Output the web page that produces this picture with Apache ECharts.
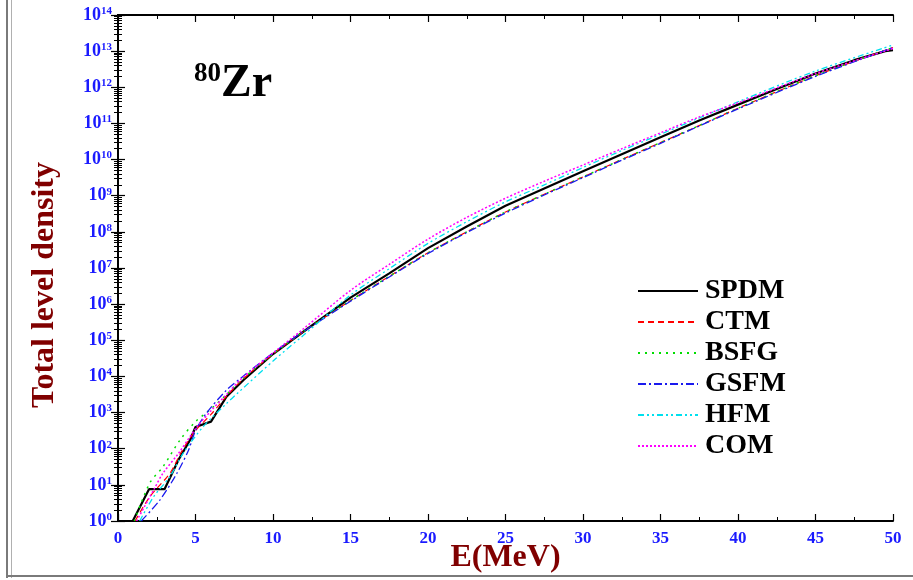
<!DOCTYPE html>
<html>
<head>
<meta charset="utf-8">
<script src="https://cdn.jsdelivr.net/npm/echarts@6/dist/echarts.min.js"></script>
<style>
  html, body { margin: 0; padding: 0; background: #fff; }
  #chart { width: 913px; height: 580px; }
  .frame-left { position: absolute; left: 6px; top: 0; width: 3px; height: 578px; border-left: 2px solid #7a7a7a; border-right: 1px solid #b0b0b0; }
  .frame-bottom { position: absolute; left: 6px; top: 575px; width: 907px; height: 0; border-top: 2px solid #7a7a7a; }
</style>
</head>
<body>
<div class="frame-left"></div>
<div class="frame-bottom"></div>
<div id="chart"></div>
<script>
// series data: excitation energy (MeV) and log10 of the total level density
var spdmE   = [0.95, 2.0, 3.0, 3.9, 4.65, 5.0, 6.0, 7.0, 8.1, 10, 12, 15, 17.5, 20, 22.5, 25, 27.5, 30, 32.5, 35, 37.5, 40, 42.5, 45, 47.5, 49.5, 50];
var spdmLog = [0, 0.88, 0.88, 1.69, 2.24, 2.6, 2.75, 3.44, 3.9, 4.62, 5.25, 6.18, 6.85, 7.55, 8.15, 8.72, 9.2, 9.68, 10.15, 10.62, 11.08, 11.52, 11.95, 12.38, 12.75, 13.0, 13.03];

var ctmE   = [1.1, 2.05, 3.35, 4.1, 5, 6, 7, 8, 10, 12, 15, 17.5, 20, 22.5, 25, 27.5, 30, 32.5, 35, 37.5, 40, 45, 50];
var ctmLog = [0, 0.67, 1.32, 1.92, 2.5, 2.95, 3.45, 3.9, 4.62, 5.25, 6.1, 6.77, 7.42, 8.0, 8.55, 9.04, 9.52, 10.0, 10.47, 10.94, 11.42, 12.32, 13.1];

var bsfgE   = [1.05, 2.05, 2.9, 4.0, 5, 6, 7, 8, 10, 12, 15, 17.5, 20, 22.5, 25, 27.5, 30, 32.5, 35, 37.5, 40, 45, 50];
var bsfgLog = [0, 1.05, 1.5, 2.24, 2.75, 3.1, 3.5, 3.92, 4.62, 5.25, 6.1, 6.77, 7.42, 8.0, 8.55, 9.04, 9.52, 10.0, 10.47, 10.94, 11.42, 12.32, 13.1];

var gsfmE   = [1.5, 2.7, 3.8, 4.55, 5.0, 5.7, 7.0, 8.0, 10, 12, 15, 17.5, 20, 22.5, 25, 27.5, 30, 32.5, 35, 37.5, 40, 45, 50];
var gsfmLog = [0, 0.58, 1.32, 1.96, 2.5, 2.98, 3.62, 3.98, 4.65, 5.25, 6.08, 6.75, 7.4, 7.98, 8.52, 9.02, 9.5, 9.98, 10.45, 10.93, 11.4, 12.3, 13.1];

var hfmE   = [1.4, 2.3, 3.35, 4.2, 5.5, 7.0, 7.7, 10.2, 12, 15, 17.5, 20, 22.5, 25, 27.5, 30, 32.5, 35, 37.5, 40, 45, 50];
var hfmLog = [0, 0.67, 1.23, 1.87, 2.61, 3.25, 3.53, 4.5, 5.15, 6.25, 6.98, 7.68, 8.28, 8.83, 9.3, 9.78, 10.25, 10.7, 11.15, 11.6, 12.45, 13.17];

var comE   = [1.2, 2.3, 2.9, 3.9, 5, 6, 7, 8, 10, 12, 15, 17.5, 20, 22.5, 25, 27.5, 30, 32.5, 35, 37.5, 40, 45, 50];
var comLog = [0, 0.86, 1.32, 1.87, 2.55, 3.05, 3.5, 3.95, 4.65, 5.33, 6.38, 7.1, 7.8, 8.4, 8.93, 9.4, 9.85, 10.3, 10.74, 11.18, 11.57, 12.38, 13.07];

var xTicks = [0, 5, 10, 15, 20, 25, 30, 35, 40, 45, 50];

var serif = '"Liberation Serif", "DejaVu Serif", serif';

function pairs(es, logs) {
    return es.map(function (e, i) { return [e, Math.pow(10, logs[i])]; });
}

function lineSeries(name, es, logs, color, width, dash, smooth) {
    return {
        name: name,
        type: 'line',
        xAxisIndex: 0,
        yAxisIndex: 0,
        symbol: 'none',
        smooth: smooth,
        clip: true,
        data: pairs(es, logs),
        lineStyle: { color: color, width: width, type: dash },
        itemStyle: { color: color }
    };
}

var myChart = echarts.init(document.getElementById('chart'));

var tickLen = 7;

function logAxis(pos) {
    return {
        type: 'log',
        logBase: 10,
        min: 1, max: 1e14,
        interval: 1,
        position: pos,
        axisLine: { show: true, lineStyle: { color: '#000', width: 2 } },
        axisTick: { inside: true, length: tickLen, lineStyle: { color: '#000', width: 1.2 } },
        minorTick: { show: true, splitNumber: 9, length: 4, lineStyle: { color: '#000', width: 1 } },
        splitLine: { show: false }
    };
}

var yLeft = logAxis('left');
yLeft.name = 'Total level density';
yLeft.nameLocation = 'middle';
yLeft.nameRotate = 90;
yLeft.nameGap = 57;
yLeft.nameTextStyle = { fontFamily: serif, fontSize: 32, fontWeight: 'bold', color: '#800000', padding: [0, 34, 0, 0] };
yLeft.axisLabel = {
    margin: 6,
    formatter: function (v) {
        var p = Math.round(Math.log10(v));
        return '{b|10}{s|' + p + '}';
    },
    rich: {
        b: { fontFamily: serif, fontSize: 18, fontWeight: 'bold', color: '#1a1aff' },
        s: { fontFamily: serif, fontSize: 11, fontWeight: 'bold', color: '#1a1aff', verticalAlign: 'top', padding: [0, 0, 8, 0] }
    }
};

var yRight = logAxis('right');
yRight.axisLabel = { show: false };

var options = {
    animation: false,
    grid: { left: 118, right: 20, top: 15, bottom: 59, outerBoundsMode: 'none' },
    title: {
        text: '{a|80}{b|Zr}',
        left: 189,
        top: 56,
        textStyle: {
            rich: {
                a: { fontFamily: serif, fontSize: 27, fontWeight: 'bold', color: '#000', verticalAlign: 'top', padding: [0, 0, 16, 0] },
                b: { fontFamily: serif, fontSize: 46, fontWeight: 'bold', color: '#000' }
            }
        }
    },
    legend: {
        orient: 'vertical',
        left: 632,
        top: 272,
        itemWidth: 60,
        itemHeight: 14,
        itemGap: 3,
        itemStyle: { opacity: 0 },
        data: ['SPDM', 'CTM', 'BSFG', 'GSFM', 'HFM', 'COM'],
        textStyle: { fontFamily: serif, fontSize: 28, fontWeight: 'bold', color: '#000', padding: [0, 0, 0, 2] }
    },
    xAxis: [
        {
            type: 'value',
            min: 0, max: 50, interval: 5,
            position: 'bottom',
            name: 'E(MeV)',
            nameLocation: 'middle',
            nameGap: 21,
            nameMoveOverlap: false,
            nameTextStyle: { fontFamily: serif, fontSize: 32, fontWeight: 'bold', color: '#800000' },
            axisLine: { lineStyle: { color: '#000', width: 2 } },
            axisTick: { inside: true, length: tickLen, lineStyle: { color: '#000', width: 1.2 } },
            minorTick: { show: true, splitNumber: 2, length: 4, lineStyle: { color: '#000', width: 1 } },
            axisLabel: {
                margin: 9,
                fontFamily: serif, fontSize: 17, fontWeight: 'bold', color: '#1a1aff',
                formatter: function (v) { return xTicks.indexOf(v) >= 0 ? String(v) : ''; }
            },
            splitLine: { show: false }
        },
        {
            type: 'value',
            min: 0, max: 50, interval: 5,
            position: 'top',
            axisLine: { lineStyle: { color: '#000', width: 2 } },
            axisTick: { inside: true, length: tickLen, lineStyle: { color: '#000', width: 1.2 } },
            minorTick: { show: true, splitNumber: 2, length: 4, lineStyle: { color: '#000', width: 1 } },
            axisLabel: { show: false },
            splitLine: { show: false }
        }
    ],
    yAxis: [yLeft, yRight],
    series: [
        lineSeries('SPDM', spdmE, spdmLog, '#000000', 2.2, 'solid', false),
        lineSeries('CTM', ctmE, ctmLog, '#ff0000', 1.2, [6, 4], 0.3),
        lineSeries('BSFG', bsfgE, bsfgLog, '#00dd00', 1.5, [2, 5], 0.3),
        lineSeries('GSFM', gsfmE, gsfmLog, '#1a1aee', 1.3, [8, 3, 2, 3], 0.3),
        lineSeries('HFM', hfmE, hfmLog, '#00e0ee', 1.3, [6, 3, 2, 3, 2, 3], 0.3),
        lineSeries('COM', comE, comLog, '#ff00ff', 1.5, [2, 2], 0.3)
    ]
};

myChart.setOption(options);
</script>
</body>
</html>
